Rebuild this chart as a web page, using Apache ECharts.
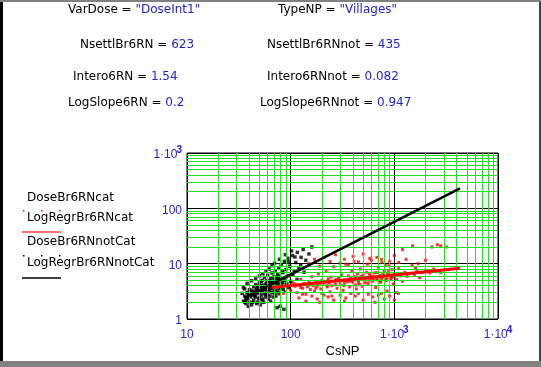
<!DOCTYPE html>
<html>
<head>
<meta charset="utf-8">
<script src="https://cdn.jsdelivr.net/npm/echarts@6/dist/echarts.min.js"></script>
<style>
  html, body { margin: 0; padding: 0; background: #fff; }
  #chart { width: 541px; height: 367px; }
</style>
</head>
<body>
<div id="chart"></div>
<script>
// axis ticks
const xTicks = [10, 100, 1000, 10000];
const yTicks = [1, 10, 100, 1000];
const minorX = [20, 30, 40, 50, 60, 70, 80, 90, 200, 300, 400, 500, 600, 700, 800, 900,
  2000, 3000, 4000, 5000, 6000, 7000, 8000, 9000];
const minorY = [2, 3, 4, 5, 6, 7, 8, 9, 20, 30, 40, 50, 60, 70, 80, 90,
  200, 300, 400, 500, 600, 700, 800, 900];

// DoseBr6RNnotCat (black dots)
const notCatX = [35, 36, 37, 38, 38, 39, 40, 40, 41, 42, 42, 43, 44, 44, 45, 46, 46, 47, 48, 48,
  49, 50, 50, 51, 52, 52, 53, 54, 54, 55, 56, 56, 57, 58, 58, 59, 60, 60, 61, 62,
  63, 63, 64, 65, 66, 66, 67, 68, 69, 70, 70, 71, 72, 73, 74, 75, 76, 77, 78, 80,
  81, 82, 84, 85, 87, 88, 90, 92, 94, 96, 98, 100, 104, 108, 112, 116, 120, 126, 132, 140,
  150, 160, 36, 37, 39, 41, 43, 45, 47, 49, 51, 53, 55, 57, 59, 61, 64, 68, 72, 76,
  34, 35, 38, 42, 46, 50, 54, 58, 62, 66, 70, 74, 78, 83, 89, 95, 102, 110, 40, 44,
  48, 52, 56, 60, 64, 68, 72, 76, 80, 84, 90, 96, 105, 115, 125, 135, 74, 79, 86, 37,
  39, 43, 47, 51, 55, 59, 63, 67, 71, 75, 45, 49, 53, 57, 61, 65, 69, 73, 41, 36];
const notCatY = [2.1, 2.6, 1.9, 3.0, 2.3, 2.8, 2.0, 3.4, 2.5, 1.8, 3.1, 2.7, 3.8, 2.2, 3.0, 2.5, 4.2, 3.3, 2.0, 2.9,
  3.6, 2.4, 4.5, 3.1, 2.7, 3.9, 5.0, 2.3, 3.4, 4.1, 2.9, 5.6, 3.6, 2.5, 4.4, 3.2, 6.2, 2.8, 3.9, 4.8,
  3.3, 2.6, 5.4, 4.0, 3.0, 6.8, 4.6, 3.5, 5.8, 2.9, 4.2, 7.5, 3.8, 5.1, 3.2, 6.3, 4.4, 8.4, 3.6, 5.5,
  9.6, 4.1, 6.9, 3.4, 11, 5.0, 7.8, 4.3, 12.5, 6.0, 9.0, 4.8, 14, 7.2, 10.5, 16, 8.3, 13, 18, 11.5,
  15, 20, 3.5, 2.4, 1.7, 3.3, 2.0, 2.6, 1.9, 2.3, 1.8, 2.2, 2.0, 2.7, 4.9, 2.3, 2.1, 2.5, 2.6, 3.0,
  2.9, 3.7, 4.4, 4.9, 5.3, 6.0, 6.6, 7.3, 8.0, 9.2, 10.2, 5.6, 12, 7.1, 14.5, 10.8, 17, 13.2, 2.9, 3.2,
  3.9, 4.7, 3.4, 3.7, 4.5, 5.1, 4.9, 5.9, 3.9, 4.6, 5.7, 3.8, 6.4, 5.2, 9.5, 7.0, 1.6, 1.7, 1.5, 2.2,
  2.4, 2.9, 3.5, 4.0, 3.7, 4.2, 4.0, 4.4, 4.7, 5.2, 2.8, 3.1, 3.3, 3.9, 3.4, 3.6, 3.9, 4.2, 2.7, 2.0];

// DoseBr6RNcat (red dots)
const catX = [70, 75, 80, 85, 90, 95, 100, 105, 110, 115, 120, 125, 130, 135, 140, 145, 150, 155, 160, 165,
  170, 175, 180, 185, 190, 195, 200, 205, 210, 215, 220, 225, 230, 235, 240, 245, 250, 260, 270, 280,
  290, 300, 310, 320, 330, 340, 350, 360, 370, 380, 390, 400, 410, 420, 430, 440, 450, 460, 470, 480,
  490, 500, 520, 540, 560, 580, 600, 620, 640, 660, 680, 700, 720, 740, 760, 780, 800, 830, 860, 890,
  920, 950, 980, 1000, 1050, 1100, 1150, 1200, 1260, 1320, 1400, 1480, 1560, 1650, 1750, 1850, 2000, 2200, 2400,
  120, 140, 160, 180, 200, 230, 260, 300, 340, 380, 420, 500, 560, 620, 700, 800, 900, 1000, 1100,
  130, 190, 250, 330, 450, 650, 750, 850, 1050,
  150, 170, 190, 210, 240, 270, 300, 330, 360, 400, 450, 500, 550, 600, 680, 750, 820, 900, 1000, 1100,
  1300, 1500, 1700, 2000, 2300, 2600, 2800, 3200, 1200, 1600, 2500, 2800, 3300,
  150, 180, 210, 240, 270, 300, 330, 360, 390, 420, 450, 480, 510, 540, 570, 600, 640, 680, 720, 760,
  800, 850, 900, 950, 1000, 110, 125, 175, 225, 275, 325, 375, 425, 475, 525, 575, 625, 675, 725, 775,
  825, 875, 925, 60, 65, 72, 78, 82, 88];
const catY = [3.2, 4.0, 3.5, 2.9, 4.2, 3.6, 3.3, 4.5, 3.9, 3.0, 4.1, 5.2, 3.6, 4.4, 2.8, 3.8, 4.6, 3.4, 5.8, 4.0,
  3.2, 4.8, 3.9, 6.5, 4.3, 3.5, 5.0, 4.2, 2.7, 4.7, 7.2, 3.8, 5.3, 4.5, 3.1, 5.7, 4.0, 8.8, 4.9, 3.6,
  5.5, 4.4, 6.3, 3.3, 5.1, 9.8, 4.7, 6.0, 3.8, 5.4, 7.4, 4.6, 11, 5.8, 3.5, 6.6, 5.0, 4.2, 8.0, 5.6,
  3.9, 6.2, 5.1, 7.0, 4.4, 12.5, 5.9, 4.8, 6.8, 3.7, 5.4, 8.6, 6.1, 4.6, 10.5, 5.8, 7.3, 4.9, 6.5, 9.2,
  5.5, 7.8, 4.3, 6.4, 5.2, 8.1, 6.0, 4.8, 7.0, 5.9, 6.6, 9.4, 6.2, 7.3, 5.6, 6.9, 7.6, 6.8, 8.0,
  2.4, 2.1, 2.6, 2.3, 2.9, 2.5, 2.2, 2.7, 2.4, 2.9, 2.6, 2.2, 2.8, 2.5, 2.7, 2.3, 2.6, 2.2, 2.9,
  2.8, 2.0, 2.6, 2.1, 2.9, 2.0, 2.9, 3.2, 3.0,
  10, 12, 9, 13, 11, 14.5, 10.2, 12, 9.5, 13.5, 10.8, 15, 9.8, 11.5, 13, 12, 9.3, 11, 14, 10.5,
  12, 21, 10, 11.5, 20, 22, 21, 20, 18, 8.4, 7.2, 6.9, 7.8,
  4.1, 4.4, 4.6, 4.8, 4.3, 5.0, 4.5, 5.1, 4.9, 5.3, 4.6, 5.5, 5.2, 5.6, 5.0, 5.4, 5.8, 5.1, 5.7, 5.3,
  6.0, 5.5, 6.1, 5.7, 5.9, 4.3, 3.7, 3.6, 4.0, 5.2, 4.0, 4.8, 4.1, 5.9, 4.5, 6.4, 5.3, 6.9, 4.9, 6.7,
  5.1, 7.2, 5.3, 3.6, 4.4, 3.3, 2.8, 4.6, 3.1];

// LogRegr lines, end points
const regCatX = [66, 4300];
const regCatY = [3.7, 8.3];
const regNotX = [36, 4300];
const regNotY = [2.4, 230];

const BLUE = '#2424cc';
const GREEN = '#22e022';
const zip = (xs, ys) => xs.map((x, i) => [x, ys[i]]);

const tickLabel = (v) => {
  if (v === 1000) return '{b|1·10}{s|3}';
  if (v === 10000) return '{b|1·10}{s|4}';
  return '{b|' + v + '}';
};
const tickRich = {
  b: { color: BLUE, fontSize: 12, fontFamily: 'Arial', lineHeight: 16, verticalAlign: 'bottom' },
  s: { color: BLUE, fontSize: 10, fontWeight: 'bold', fontFamily: 'Arial', lineHeight: 16, verticalAlign: 'top', padding: [0, 0, 0, -1] },
};

const topText = (x, y, name, value) => ({
  type: 'text',
  left: x,
  top: y - 8,
  style: {
    text: '{k|' + name + ' = }{v|' + value + '}',
    rich: {
      k: { fill: '#000', font: '12px "DejaVu Sans"' },
      v: { fill: BLUE, font: '12px "DejaVu Sans"' },
    },
  },
});

const legText = (y, label) => ({
  type: 'text', left: 27, top: y - 8,
  style: { text: label, fill: '#000', font: '12px "DejaVu Sans"' },
});
const legDots = (y, color) => [23, 41, 59].map((x) => ({
  type: 'rect', shape: { x: x, y: y, width: 1.5, height: 1.5 }, style: { fill: color },
}));
const legLine = (y, color) => ({
  type: 'line', shape: { x1: 22, y1: y, x2: 61, y2: y }, style: { stroke: color, lineWidth: 1.5 },
});

const chart = echarts.init(document.getElementById('chart'));
chart.setOption({
  animation: false,
  backgroundColor: '#fff',
  grid: {
    left: 187, top: 153, width: 311, height: 166,
    show: true, borderColor: '#000', borderWidth: 1, backgroundColor: '#fff',
  },
  xAxis: {
    type: 'log', logBase: 10, min: 10, max: 10000,
    name: 'CsNP', nameLocation: 'middle', nameGap: 26,
    nameTextStyle: { color: '#000', fontSize: 13, fontFamily: 'Arial' },
    axisLine: { show: false },
    axisTick: { show: false },
    axisLabel: { margin: 6, formatter: tickLabel, rich: tickRich },
    splitLine: { show: true, lineStyle: { color: '#000', width: 1 } },
  },
  yAxis: {
    type: 'log', logBase: 10, min: 1, max: 1000,
    axisLine: { show: false },
    axisTick: { show: false },
    axisLabel: { margin: 5, formatter: tickLabel, rich: tickRich },
    splitLine: { show: true, lineStyle: { color: '#000', width: 1 } },
  },
  series: [
    {
      name: 'minorGrid', type: 'scatter', data: [], z: 1, silent: true,
      markLine: {
        silent: true, symbol: ['none', 'none'], label: { show: false },
        lineStyle: { color: GREEN, width: 1, type: 'solid' },
        data: minorX.map((v) => ({ xAxis: v })).concat(minorY.map((v) => ({ yAxis: v }))),
      },
    },
    {
      name: 'DoseBr6RNcat', type: 'scatter', z: 3, symbol: 'rect', symbolSize: 3,
      itemStyle: { color: '#ff0000' }, data: zip(catX, catY),
    },
    {
      name: 'DoseBr6RNnotCat', type: 'scatter', z: 4, symbol: 'rect', symbolSize: 3.5,
      itemStyle: { color: '#000' }, data: zip(notCatX, notCatY),
    },
    {
      name: 'LogRegrBr6RNcat', type: 'line', z: 5, symbol: 'none',
      lineStyle: { color: '#ff0000', width: 3 }, data: zip(regCatX, regCatY),
    },
    {
      name: 'LogRegrBr6RNnotCat', type: 'line', z: 6, symbol: 'none',
      lineStyle: { color: '#000', width: 2.5 }, data: zip(regNotX, regNotY),
    },
  ],
  graphic: [
    // frame
    { type: 'rect', shape: { x: 0, y: 0, width: 541, height: 2 }, style: { fill: '#808080' } },
    { type: 'rect', shape: { x: 0, y: 361, width: 541, height: 6 }, style: { fill: '#808080' } },
    { type: 'rect', shape: { x: 0, y: 2, width: 3, height: 359 }, style: { fill: '#000' } },
    { type: 'rect', shape: { x: 539, y: 2, width: 2, height: 359 }, style: { fill: '#404040' } },
    // header values
    topText(68, 12, 'VarDose', '"DoseInt1"'),
    topText(278, 12, 'TypeNP', '"Villages"'),
    topText(80, 47, 'NsettlBr6RN', '623'),
    topText(267, 47, 'NsettlBr6RNnot', '435'),
    topText(73, 79, 'Intero6RN', '1.54'),
    topText(267, 79, 'Intero6RNnot', '0.082'),
    topText(68, 105, 'LogSlope6RN', '0.2'),
    topText(260, 105, 'LogSlope6RNnot', '0.947'),
    // legend
    legText(200, 'DoseBr6RNcat'),
    ...legDots(210, '#ff0000'),
    legText(220, 'LogRegrBr6RNcat'),
    legLine(232, '#ff4040'),
    legText(244, 'DoseBr6RNnotCat'),
    ...legDots(255, '#000'),
    legText(265, 'LogRegrBr6RNnotCat'),
    legLine(278, '#000'),
  ],
});
</script>
</body>
</html>
